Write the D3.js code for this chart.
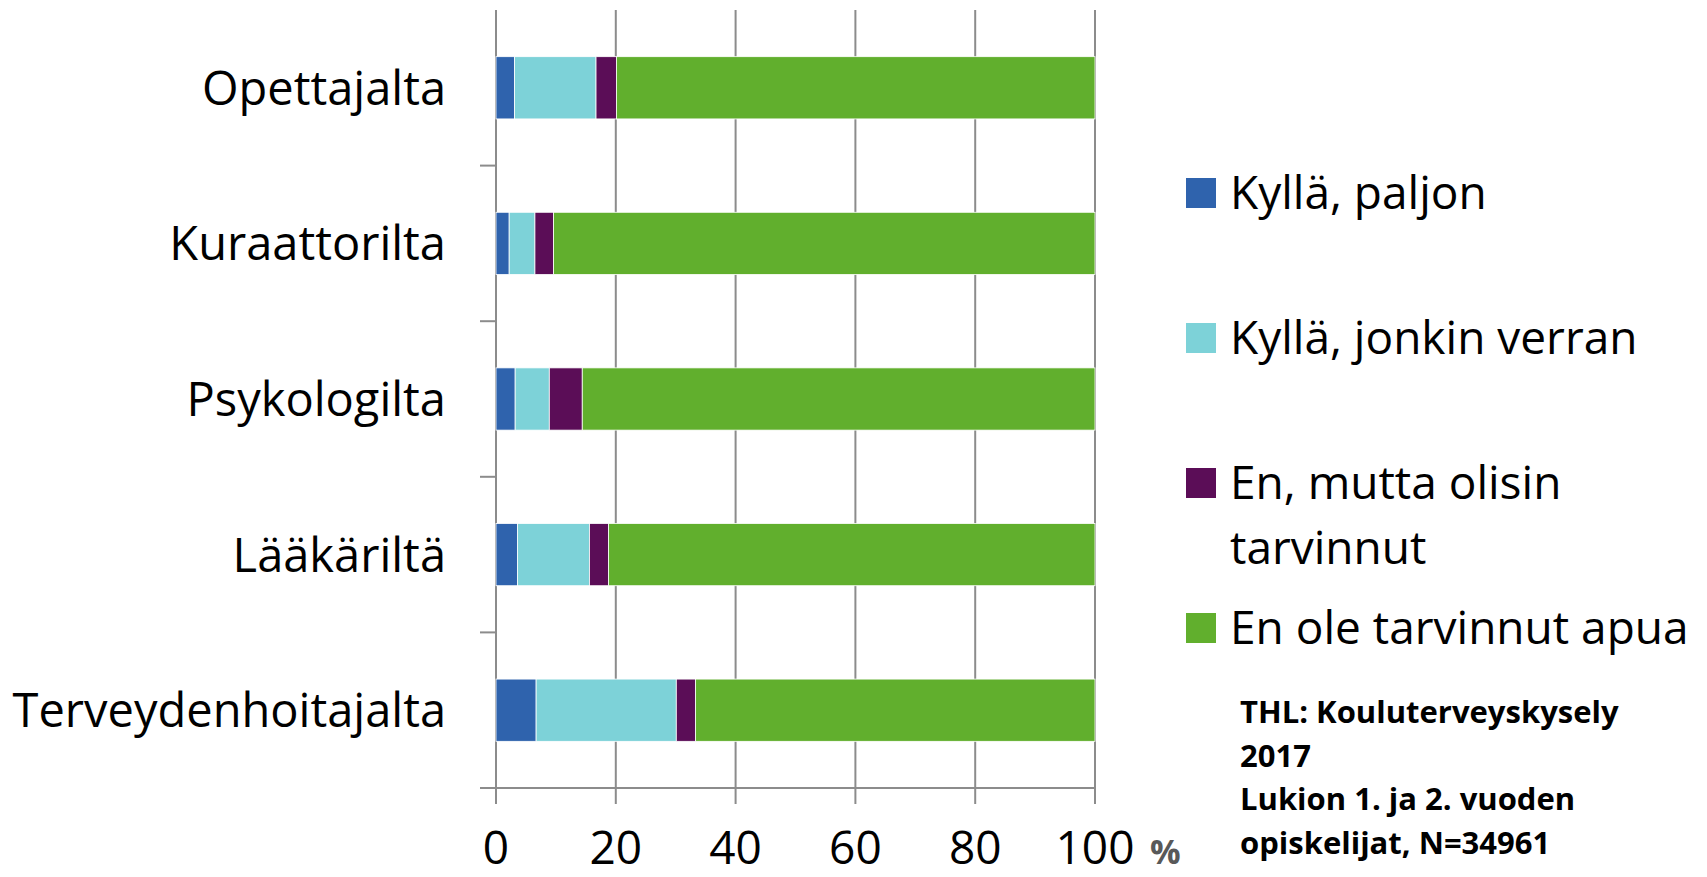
<!DOCTYPE html>
<html>
<head>
    <meta charset="utf-8">
    <style>
        body {
            margin: 0;
            background-color: #ffffff;
            font-family: "Open Sans", Arial, sans-serif;
        }

        .grid line {
            stroke: #8c8c8c;
            stroke-width: 2px;
        }

        .cat-label {
            font-size: 47px;
            fill: #000;
            text-anchor: end;
        }

        .tick-label {
            font-size: 46px;
            fill: #000;
            text-anchor: middle;
        }

        .legend text {
            font-size: 46px;
            fill: #000;
        }

        .note {
            font-size: 31px;
            font-weight: bold;
            fill: #000;
        }
    </style>
</head>
<body>
    <div id="chart"></div>

    <script src="https://d3js.org/d3.v7.min.js"></script>
    <script>
        // data (percent of students)
        var categories = ["Opettajalta", "Kuraattorilta", "Psykologilta", "Lääkäriltä", "Terveydenhoitajalta"];
        var seriesKeys = ["paljon", "jonkin", "olisin", "eiTarvetta"];
        var seriesLabels = [
            ["Kyllä, paljon"],
            ["Kyllä, jonkin verran"],
            ["En, mutta olisin", "tarvinnut"],
            ["En ole tarvinnut apua"]
        ];
        var seriesColors = ["#2f63ad", "#7dd2d8", "#5b0d57", "#61af2d"];

        var paljon     = [3.1, 2.2, 3.2, 3.6, 6.7];
        var jonkin     = [13.6, 4.3, 5.7, 12.0, 23.4];
        var olisin     = [3.4, 3.1, 5.5, 3.2, 3.2];
        var eiTarvetta = [79.9, 90.4, 85.6, 81.2, 66.7];

        var xTicks = [0, 20, 40, 60, 80, 100];
        var noteLines = ["THL: Kouluterveyskysely", "2017", "Lukion 1. ja 2. vuoden", "opiskelijat, N=34961"];

        var rows = categories.map(function(c, i) {
            return {cat: c, paljon: paljon[i], jonkin: jonkin[i], olisin: olisin[i], eiTarvetta: eiTarvetta[i]};
        });

        var W = 1707, H = 877;
        var plot = {left: 496, right: 1095, top: 10, bottom: 788};

        var svg = d3.select("#chart").append("svg")
            .attr("width", W)
            .attr("height", H);

        var x = d3.scaleLinear().domain([0, 100]).range([plot.left, plot.right]);
        var y = d3.scaleBand().domain(categories)
            .range([plot.top, plot.bottom])
            .paddingInner(0.6)
            .paddingOuter(0.3);

        // gridlines + x ticks (go a bit below the axis)
        var grid = svg.append("g").attr("class", "grid");
        grid.selectAll("line.v")
            .data(xTicks)
            .enter().append("line")
            .attr("class", "v")
            .attr("x1", function(d) { return x(d); })
            .attr("x2", function(d) { return x(d); })
            .attr("y1", plot.top)
            .attr("y2", plot.bottom + 16);

        // category boundaries on the left axis
        var step = y.step();
        var bounds = categories.map(function(c) { return y(c) + y.bandwidth() + step * 0.3; });
        grid.selectAll("line.h")
            .data(bounds)
            .enter().append("line")
            .attr("class", "h")
            .attr("x1", plot.left - 16)
            .attr("x2", function(d, i) { return i === bounds.length - 1 ? plot.right : plot.left; })
            .attr("y1", function(d) { return d; })
            .attr("y2", function(d) { return d; });

        // stacked bars
        var stack = d3.stack().keys(seriesKeys);
        var layers = stack(rows);

        svg.append("g").selectAll("g")
            .data(layers)
            .enter().append("g")
            .attr("fill", function(d, i) { return seriesColors[i]; })
            .selectAll("rect")
            .data(function(d) { return d; })
            .enter().append("rect")
            .attr("x", function(d) { return x(d[0]); })
            .attr("width", function(d) { return x(d[1]) - x(d[0]); })
            .attr("y", function(d) { return y(d.data.cat); })
            .attr("height", y.bandwidth())
            .attr("stroke", "#ffffff")
            .attr("stroke-width", 0.8);

        // category labels
        svg.append("g").selectAll("text")
            .data(categories)
            .enter().append("text")
            .attr("class", "cat-label")
            .attr("x", 446)
            .attr("y", function(d) { return y(d) + y.bandwidth() / 2; })
            .attr("dy", "0.36em")
            .text(function(d) { return d; });

        // x tick labels
        svg.append("g").selectAll("text")
            .data(xTicks)
            .enter().append("text")
            .attr("class", "tick-label")
            .attr("x", function(d) { return x(d); })
            .attr("y", 864)
            .text(function(d) { return d; });

        svg.append("text")
            .attr("x", 1150)
            .attr("y", 864)
            .style("font-size", "34px")
            .style("font-weight", "bold")
            .style("fill", "#595959")
            .text("%");

        // legend
        var legend = svg.append("g").attr("class", "legend");
        var item = legend.selectAll("g")
            .data(seriesLabels)
            .enter().append("g")
            .attr("transform", function(d, i) { return "translate(1186," + (193 + i * 145) + ")"; });

        item.append("rect")
            .attr("x", 0)
            .attr("y", -15)
            .attr("width", 30)
            .attr("height", 30)
            .attr("fill", function(d, i) { return seriesColors[i]; });

        item.append("text")
            .attr("x", 44)
            .attr("y", 16)
            .selectAll("tspan")
            .data(function(d) { return d; })
            .enter().append("tspan")
            .attr("x", 44)
            .attr("dy", function(d, i) { return i === 0 ? 0 : 65; })
            .text(function(d) { return d; });

        // source note
        svg.append("text")
            .attr("class", "note")
            .attr("x", 1240)
            .attr("y", 723)
            .selectAll("tspan")
            .data(noteLines)
            .enter().append("tspan")
            .attr("x", 1240)
            .attr("dy", function(d, i) { return i === 0 ? 0 : 43.5; })
            .text(function(d) { return d; });
    </script>
</body>
</html>
